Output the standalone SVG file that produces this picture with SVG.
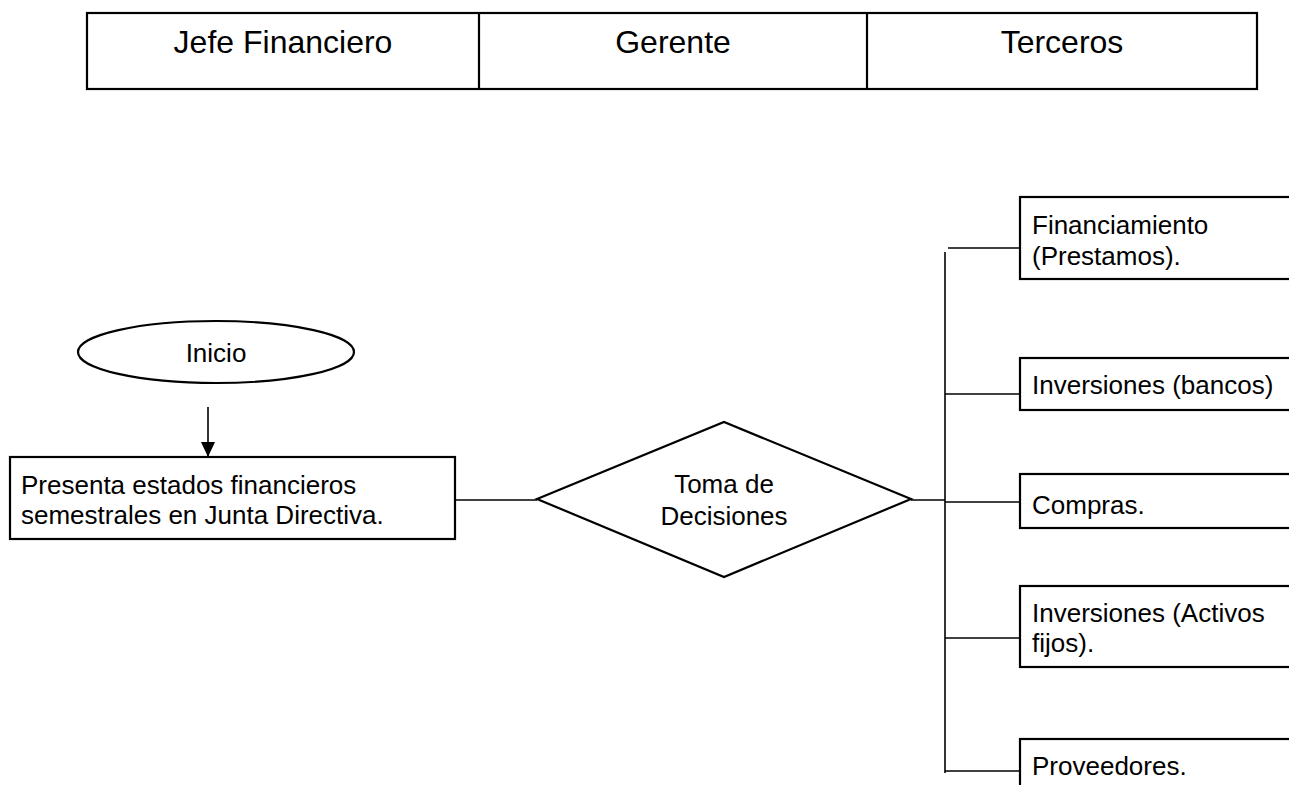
<svg xmlns="http://www.w3.org/2000/svg" width="1289" height="785" viewBox="0 0 1289 785">
<style>
text{font-family:"Liberation Sans",Arial,sans-serif;fill:#000}
.h{font-size:32px;text-anchor:middle}
.t{font-size:26px}
.c{text-anchor:middle}
.box{fill:#fff;stroke:#000;stroke-width:2.2}
.ln{fill:none;stroke:#000;stroke-width:1.6}
</style>
<defs>
<marker id="arr" markerWidth="15" markerHeight="14" refX="15" refY="7" orient="auto" markerUnits="userSpaceOnUse">
<path d="M0,0 L15,7 L0,14 Z" fill="#000"/>
</marker>
</defs>
<rect width="1289" height="785" fill="#fff"/>
<g id="header">
<rect class="box" x="87" y="13" width="1170" height="76" stroke-width="2.6"/>
<line x1="479" y1="13" x2="479" y2="89" stroke="#000" stroke-width="2.2"/>
<line x1="867" y1="13" x2="867" y2="89" stroke="#000" stroke-width="2.2"/>
<text class="h" x="283" y="53">Jefe Financiero</text>
<text class="h" x="673" y="53">Gerente</text>
<text class="h" x="1062" y="53">Terceros</text>
</g>
<g id="connectors">
<line class="ln" x1="208" y1="407" x2="208" y2="457" marker-end="url(#arr)"/>
<line class="ln" x1="455" y1="500" x2="537" y2="500"/>
<line class="ln" x1="911" y1="500" x2="945" y2="500"/>
<line class="ln" x1="945" y1="252" x2="945" y2="773"/>
<line class="ln" x1="948" y1="248" x2="1020" y2="248"/>
<line class="ln" x1="945" y1="394" x2="1020" y2="394"/>
<line class="ln" x1="945" y1="502" x2="1020" y2="502"/>
<line class="ln" x1="945" y1="638" x2="1020" y2="638"/>
<line class="ln" x1="945" y1="771" x2="1020" y2="771"/>
</g>
<g id="inicio">
<ellipse class="box" cx="216" cy="352" rx="138" ry="31"/>
<text class="t c" x="216" y="362">Inicio</text>
</g>
<g id="presenta">
<rect class="box" x="10" y="457" width="445" height="82"/>
<text class="t" x="21" y="494">Presenta estados financieros</text>
<text class="t" x="21" y="524">semestrales en Junta Directiva.</text>
</g>
<g id="decision">
<polygon class="box" points="537,499 724,422 911,499 724,577"/>
<text class="t c" x="724" y="493">Toma de</text>
<text class="t c" x="724" y="525">Decisiones</text>
</g>
<g id="financiamiento">
<rect class="box" x="1020" y="197" width="290" height="82"/>
<text class="t" x="1032" y="234">Financiamiento</text>
<text class="t" x="1032" y="265">(Prestamos).</text>
</g>
<g id="inversiones-bancos">
<rect class="box" x="1020" y="358" width="290" height="52"/>
<text class="t" x="1032" y="394">Inversiones (bancos)</text>
</g>
<g id="compras">
<rect class="box" x="1020" y="474" width="290" height="54"/>
<text class="t" x="1032" y="514">Compras.</text>
</g>
<g id="inversiones-activos">
<rect class="box" x="1020" y="586" width="290" height="81"/>
<text class="t" x="1032" y="622">Inversiones (Activos</text>
<text class="t" x="1032" y="652">fijos).</text>
</g>
<g id="proveedores">
<rect class="box" x="1020" y="739" width="290" height="80"/>
<text class="t" x="1032" y="775">Proveedores.</text>
</g>
</svg>
